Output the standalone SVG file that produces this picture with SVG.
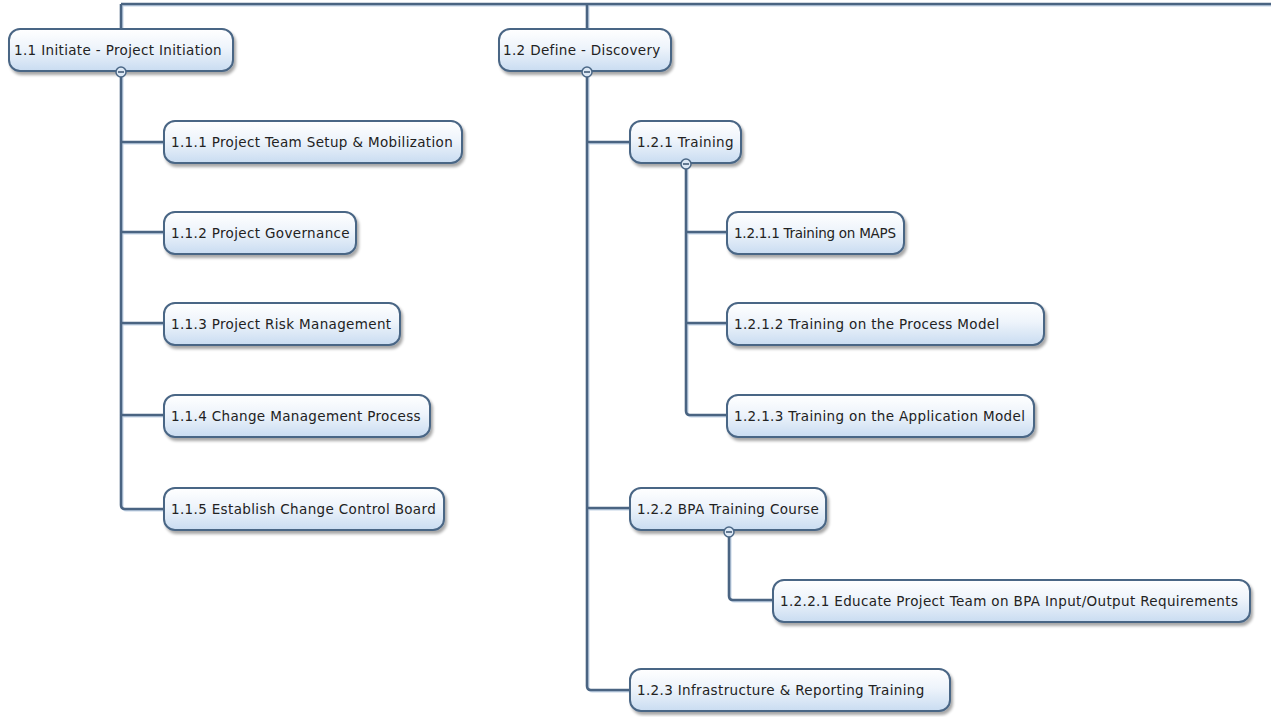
<svg xmlns="http://www.w3.org/2000/svg" width="1271" height="717" viewBox="0 0 1271 717">
  <defs>
    <linearGradient id="nodeFill" x1="0" y1="0" x2="0" y2="1">
      <stop offset="0" stop-color="#ffffff"/>
      <stop offset="0.45" stop-color="#eef4fb"/>
      <stop offset="1" stop-color="#c9dcf1"/>
    </linearGradient>
    <filter id="shadow" x="-10%" y="-20%" width="120%" height="150%">
      <feGaussianBlur in="SourceAlpha" stdDeviation="1.6"/>
      <feOffset dx="2" dy="3" result="b"/>
      <feComponentTransfer><feFuncA type="linear" slope="0.35"/></feComponentTransfer>
      <feMerge><feMergeNode/><feMergeNode in="SourceGraphic"/></feMerge>
    </filter>
  </defs>
  <style>
    .node rect { fill: url(#nodeFill); stroke: #4a6685; stroke-width: 2; filter: url(#shadow); }
    .node text { font-family: "DejaVu Sans", Verdana, sans-serif; font-size: 13.5px; letter-spacing: 0.35px; fill: #222222; dominant-baseline: central; }
    .node text.tight { letter-spacing: -0.25px; }
    .link { fill: none; stroke: #4a6482; stroke-width: 2.6; stroke-linejoin: round; }
    .halo { fill: none; stroke: #c3d3e6; stroke-width: 2; stroke-linejoin: round; }
    .toggle circle { fill: #dce8f5; stroke: #4a6685; stroke-width: 1.5; }
    .toggle line { stroke: #2e4a68; stroke-width: 1.4; }
  </style>

  <!-- connectors: light halo first, then the dark line -->
  <g id="connectors">
    <g transform="translate(1.5,1.5)">
      <path class="halo" d="M121,4 H1271"/>
      <path class="halo" d="M121,4 V29 M587,4 V29"/>
      <path class="halo" d="M121,72 V505 Q121,509 125,509 H164 M121,142 H164 M121,232 H164 M121,323 H164 M121,415 H164"/>
      <path class="halo" d="M587,72 V686 Q587,690 591,690 H630 M587,142 H630 M587,508 H630"/>
      <path class="halo" d="M686,164 V411 Q686,415 690,415 H727 M686,232 H727 M686,323 H727"/>
      <path class="halo" d="M729,532 V596 Q729,600 733,600 H773"/>
    </g>
    <path class="link" d="M121,4 H1271"/>
    <path class="link" d="M121,4 V29 M587,4 V29"/>
    <path class="link" d="M121,72 V505 Q121,509 125,509 H164 M121,142 H164 M121,232 H164 M121,323 H164 M121,415 H164"/>
    <path class="link" d="M587,72 V686 Q587,690 591,690 H630 M587,142 H630 M587,508 H630"/>
    <path class="link" d="M686,164 V411 Q686,415 690,415 H727 M686,232 H727 M686,323 H727"/>
    <path class="link" d="M729,532 V596 Q729,600 733,600 H773"/>
  </g>

  <g id="n1_1" class="node">
    <rect x="9" y="29" width="224" height="42" rx="11"/>
    <text x="14" y="50">1.1 Initiate - Project Initiation</text>
    <g class="toggle"><circle cx="121" cy="72" r="5"/><line x1="118" y1="72" x2="124" y2="72"/></g>
  </g>
  <g id="n1_1_1" class="node">
    <rect x="164" y="121" width="298" height="42" rx="11"/>
    <text x="171" y="142">1.1.1 Project Team Setup &amp; Mobilization</text>
  </g>
  <g id="n1_1_2" class="node">
    <rect x="164" y="212" width="192" height="42" rx="11"/>
    <text x="171" y="233">1.1.2 Project Governance</text>
  </g>
  <g id="n1_1_3" class="node">
    <rect x="164" y="303" width="236" height="42" rx="11"/>
    <text x="171" y="324">1.1.3 Project Risk Management</text>
  </g>
  <g id="n1_1_4" class="node">
    <rect x="164" y="395" width="266" height="42" rx="11"/>
    <text x="171" y="416">1.1.4 Change Management Process</text>
  </g>
  <g id="n1_1_5" class="node">
    <rect x="164" y="488" width="280" height="42" rx="11"/>
    <text x="171" y="509">1.1.5 Establish Change Control Board</text>
  </g>

  <g id="n1_2" class="node">
    <rect x="499" y="29" width="172" height="42" rx="11"/>
    <text x="503" y="50">1.2 Define - Discovery</text>
    <g class="toggle"><circle cx="587" cy="72" r="5"/><line x1="584" y1="72" x2="590" y2="72"/></g>
  </g>
  <g id="n1_2_1" class="node">
    <rect x="630" y="121" width="111" height="42" rx="11"/>
    <text x="637" y="142">1.2.1 Training</text>
    <g class="toggle"><circle cx="686" cy="164" r="5"/><line x1="683" y1="164" x2="689" y2="164"/></g>
  </g>
  <g id="n1_2_1_1" class="node">
    <rect x="727" y="212" width="177" height="42" rx="11"/>
    <text class="tight" x="734" y="233">1.2.1.1 Training on MAPS</text>
  </g>
  <g id="n1_2_1_2" class="node">
    <rect x="727" y="303" width="317" height="42" rx="11"/>
    <text x="734" y="324">1.2.1.2 Training on the Process Model</text>
  </g>
  <g id="n1_2_1_3" class="node">
    <rect x="727" y="395" width="307" height="42" rx="11"/>
    <text x="734" y="416">1.2.1.3 Training on the Application Model</text>
  </g>
  <g id="n1_2_2" class="node">
    <rect x="630" y="488" width="196" height="42" rx="11"/>
    <text x="637" y="509">1.2.2 BPA Training Course</text>
    <g class="toggle"><circle cx="729" cy="532" r="5"/><line x1="726" y1="532" x2="732" y2="532"/></g>
  </g>
  <g id="n1_2_2_1" class="node">
    <rect x="773" y="580" width="477" height="42" rx="11"/>
    <text x="780" y="601">1.2.2.1 Educate Project Team on BPA Input/Output Requirements</text>
  </g>
  <g id="n1_2_3" class="node">
    <rect x="630" y="669" width="320" height="42" rx="11"/>
    <text x="637" y="690">1.2.3 Infrastructure &amp; Reporting Training</text>
  </g>
</svg>
